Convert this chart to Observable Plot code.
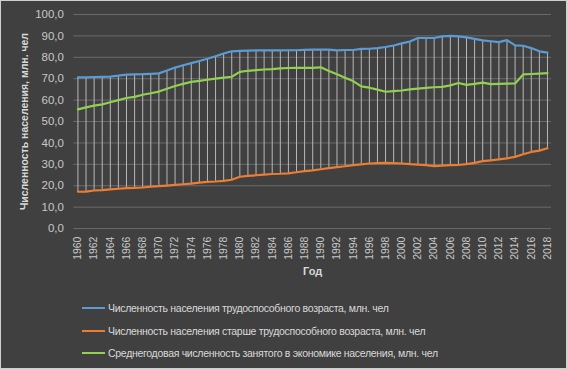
<!DOCTYPE html>
<html><head><meta charset="utf-8">
<script src="https://cdn.jsdelivr.net/npm/d3@7"></script>
<script src="https://cdn.jsdelivr.net/npm/@observablehq/plot@0.6"></script>
<style>
html,body{margin:0;padding:0;background:#404040;}
#chart{width:567px;height:369px;box-sizing:border-box;border:1px solid #d0d0d0;background:#404040;position:relative;overflow:hidden;font-family:"Liberation Sans",Arial,sans-serif;}
#plot{position:absolute;left:-1px;top:-1px;}
.leg{position:absolute;left:81px;display:flex;align-items:center;height:14px;font-size:10.5px;letter-spacing:-0.3px;color:#d9d9d9;white-space:nowrap;}
.leg span.sw{display:inline-block;width:23px;height:2px;margin-right:3px;}
</style>
</head><body>
<div id="chart"><div id="plot"></div></div>
<script>
const years = [1960,1961,1962,1963,1964,1965,1966,1967,1968,1969,1970,1971,1972,1973,1974,1975,1976,1977,1978,1979,
1980,1981,1982,1983,1984,1985,1986,1987,1988,1989,1990,1991,1992,1993,1994,1995,1996,1997,1998,1999,
2000,2001,2002,2003,2004,2005,2006,2007,2008,2009,2010,2011,2012,2013,2014,2015,2016,2017,2018];
const working = [70.6,70.6,70.8,70.9,71.0,71.4,71.9,72.0,72.1,72.3,72.5,73.8,75.2,76.3,77.3,78.3,79.3,80.5,81.8,82.8,
83.0,83.1,83.2,83.2,83.2,83.2,83.3,83.3,83.5,83.6,83.6,83.6,83.2,83.4,83.4,83.9,84.0,84.3,84.8,85.5,
86.5,87.4,89.0,89.0,89.0,89.8,90.0,89.8,89.3,88.6,87.9,87.5,87.1,88.0,85.6,85.4,84.3,82.8,82.2];
const older = [17.2,17.3,17.8,18.0,18.3,18.6,18.9,19.0,19.2,19.6,19.8,20.1,20.4,20.7,21.0,21.5,21.8,22.0,22.3,22.8,
24.2,24.6,24.9,25.2,25.5,25.6,25.8,26.3,26.8,27.2,27.7,28.2,28.7,29.1,29.6,30.0,30.4,30.6,30.7,30.6,
30.4,30.1,29.9,29.6,29.2,29.4,29.6,29.7,30.1,30.7,31.5,31.9,32.3,32.8,33.5,34.7,35.8,36.4,37.5];
const employed = [55.7,56.6,57.4,58.0,59.0,60.0,61.0,61.5,62.5,63.2,64.0,65.3,66.6,67.6,68.5,69.0,69.5,70.0,70.5,70.9,
73.2,73.7,74.0,74.3,74.5,74.8,75.0,75.1,75.1,75.1,75.3,73.6,72.1,70.5,68.9,66.4,65.8,64.9,63.9,64.2,
64.5,65.0,65.4,65.7,66.0,66.2,66.9,68.0,67.1,67.6,68.2,67.5,67.6,67.7,67.8,72.0,72.2,72.4,72.6];
const xTicks = [1960,1962,1964,1966,1968,1970,1972,1974,1976,1978,1980,1982,1984,1986,1988,1990,1992,1994,1996,1998,2000,2002,2004,2006,2008,2010,2012,2014,2016,2018];
const yTicks = [0,10,20,30,40,50,60,70,80,90,100];
const seriesNames = [
  "Численность населения трудоспособного возраста, млн. чел",
  "Численность населения старше трудоспособного возраста, млн. чел",
  "Среднегодовая численность занятого в экономике населения, млн. чел"
];
const seriesKeys = ["working","older","employed"];
const seriesColors = ["#5b9bd5","#ed7d31","#92d050"];
const yLabel = "Численность населения, млн. чел";
const xLabel = "Год";

const rows = years.map((y,i)=>({year:y, working:working[i], older:older[i], employed:employed[i]}));

const glow = seriesKeys.map((k,i)=>Plot.line(rows,{x:"year",y:k,stroke:i===2?"#555555":seriesColors[i],strokeWidth:11,strokeOpacity:i===2?0.8:0.4,ariaLabel:"glow"}));
const lines = seriesKeys.map((k,i)=>Plot.line(rows,{x:"year",y:k,stroke:seriesColors[i],strokeWidth:2.2}));

const svg = Plot.plot({
  width:567, height:285,
  marginLeft:73.5, marginRight:15, marginTop:14, marginBottom:56.5,
  style:{background:"transparent", fontFamily:"'Liberation Sans', Arial, sans-serif", overflow:"visible"},
  x:{domain:[1959.5,2018.5]},
  y:{domain:[0,100]},
  marks:[
    Plot.gridY(yTicks,{stroke:"#6a6a6a",strokeOpacity:1,strokeWidth:1}),
    Plot.axisY(yTicks,{tickSize:0,tickPadding:10,tickFormat:d=>d.toFixed(1).replace(".",","),fill:"#c8c8c8",fontSize:11.5,label:null}),
    Plot.axisX(xTicks,{tickSize:0,tickRotate:-90,tickPadding:8,tickFormat:d=>String(d),fill:"#c8c8c8",fontSize:10.5,label:null}),
    ...glow,
    Plot.ruleX(rows,{x:"year",y1:"older",y2:"working",stroke:"#b8b8b8",strokeWidth:1}),
    ...lines,
    Plot.text([yLabel],{frameAnchor:"left",rotate:-90,dx:-49.5,textAnchor:"middle",lineAnchor:"middle",fontWeight:"bold",fontSize:10.5,fill:"#d9d9d9"}),
    Plot.text([xLabel],{frameAnchor:"bottom",dy:43,textAnchor:"middle",lineAnchor:"middle",fontWeight:"bold",fontSize:11,fill:"#d9d9d9"})
  ]
});
svg.querySelectorAll('g[aria-label="glow"]').forEach(g=>{g.style.filter="blur(4px)";});
document.getElementById("plot").appendChild(svg);

const chart = document.getElementById("chart");
const legTops = [300,323,345];
seriesNames.forEach((n,i)=>{
  const d = document.createElement("div");
  d.className="leg";
  d.style.top = legTops[i]+"px";
  const sw = document.createElement("span");
  sw.className="sw"; sw.style.background=seriesColors[i];
  const t = document.createElement("span");
  t.textContent = n;
  d.appendChild(sw); d.appendChild(t);
  chart.appendChild(d);
});
</script>
</body></html>
